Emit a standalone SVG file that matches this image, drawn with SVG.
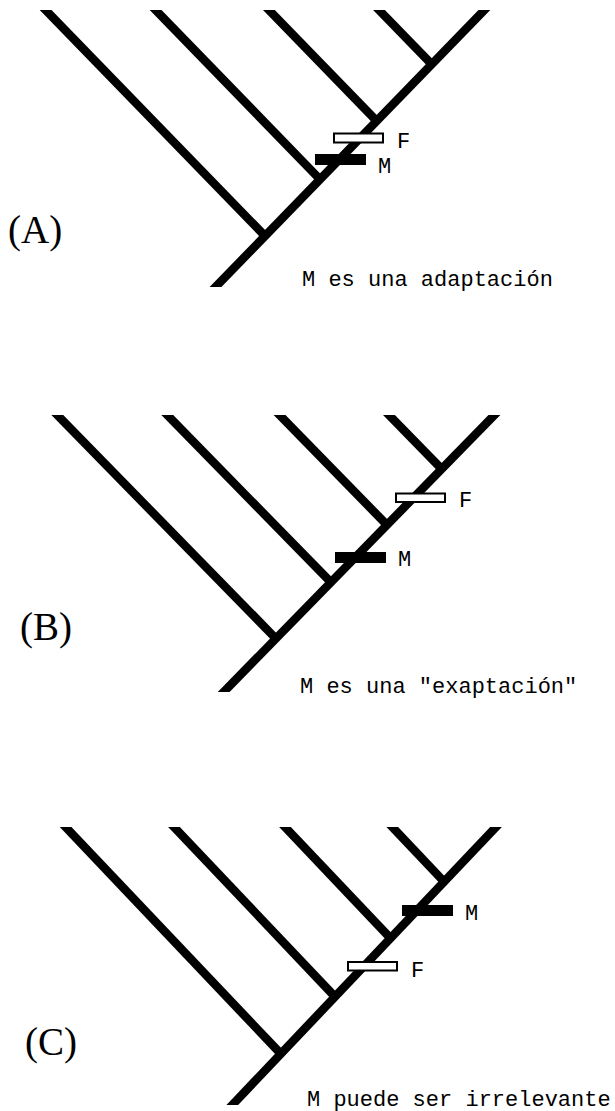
<svg xmlns="http://www.w3.org/2000/svg" width="615" height="1111" viewBox="0 0 615 1111">
  <style>
    .br { stroke: #000; stroke-width: 8.5; stroke-linecap: butt; fill: none; }
    .mbar { fill: #000; }
    .fbar { fill: #fff; stroke: #000; stroke-width: 2; }
    .mono { font-family: "Liberation Mono", "Courier New", monospace; font-size: 22px; fill: #000; }
    .panel { font-family: "Liberation Serif", "Times New Roman", serif; font-size: 39px; fill: #000; }
  </style>
  <defs>
    <clipPath id="clipA"><rect x="0" y="10" width="615" height="277"/></clipPath>
    <clipPath id="clipB"><rect x="0" y="415" width="615" height="277"/></clipPath>
    <clipPath id="clipC"><rect x="0" y="827" width="615" height="278"/></clipPath>
  </defs>
  <rect width="615" height="1111" fill="#fff"/>

  <!-- Panel A -->
  <g id="panelA">
    <g id="connectorsA" clip-path="url(#clipA)" class="br">
      <line x1="494.1" y1="0" x2="205.8" y2="297"/>
      <line x1="35.9" y1="0" x2="265" y2="236"/>
      <line x1="145.9" y1="0" x2="320" y2="179.4"/>
      <line x1="259.2" y1="0" x2="376.7" y2="121"/>
      <line x1="369.3" y1="0" x2="431.7" y2="64.3"/>
    </g>
    <g id="A_F"><rect class="fbar" x="334" y="133.5" width="49" height="9"/><text class="mono" x="397" y="148">F</text></g>
    <g id="A_M"><rect class="mbar" x="315" y="154" width="51" height="11"/><text class="mono" x="378" y="173">M</text></g>
    <text class="panel" x="8" y="243">(A)</text>
    <text class="mono" x="302" y="286">M es una adaptación</text>
  </g>

  <!-- Panel B -->
  <g id="panelB">
    <g id="connectorsB" clip-path="url(#clipB)" class="br">
      <line x1="504.2" y1="405" x2="213.9" y2="702"/>
      <line x1="47.5" y1="405" x2="275.9" y2="638.6"/>
      <line x1="157.5" y1="405" x2="330.9" y2="582.3"/>
      <line x1="269.8" y1="405" x2="387" y2="525"/>
      <line x1="379.2" y1="405" x2="441.7" y2="469"/>
    </g>
    <g id="B_F"><rect class="fbar" x="396" y="493.5" width="49" height="8.5"/><text class="mono" x="459" y="507">F</text></g>
    <g id="B_M"><rect class="mbar" x="335" y="552" width="51" height="11"/><text class="mono" x="398" y="566">M</text></g>
    <text class="panel" x="20" y="640">(B)</text>
    <text class="mono" x="300" y="693">M es una "exaptación"</text>
  </g>

  <!-- Panel C -->
  <g id="panelC">
    <g id="connectorsC" clip-path="url(#clipC)" class="br">
      <line x1="505.5" y1="817" x2="222.8" y2="1115"/>
      <line x1="56.1" y1="817" x2="280.8" y2="1053.8"/>
      <line x1="164.5" y1="817" x2="335" y2="996.7"/>
      <line x1="275.5" y1="817" x2="390.5" y2="938.2"/>
      <line x1="382.8" y1="817" x2="444" y2="881.6"/>
    </g>
    <g id="C_M"><rect class="mbar" x="402" y="905" width="51" height="11"/><text class="mono" x="465" y="920">M</text></g>
    <g id="C_F"><rect class="fbar" x="348" y="962" width="49" height="8.5"/><text class="mono" x="411" y="977">F</text></g>
    <text class="panel" x="25" y="1055">(C)</text>
    <text class="mono" x="307" y="1106">M puede ser irrelevante</text>
  </g>
</svg>
